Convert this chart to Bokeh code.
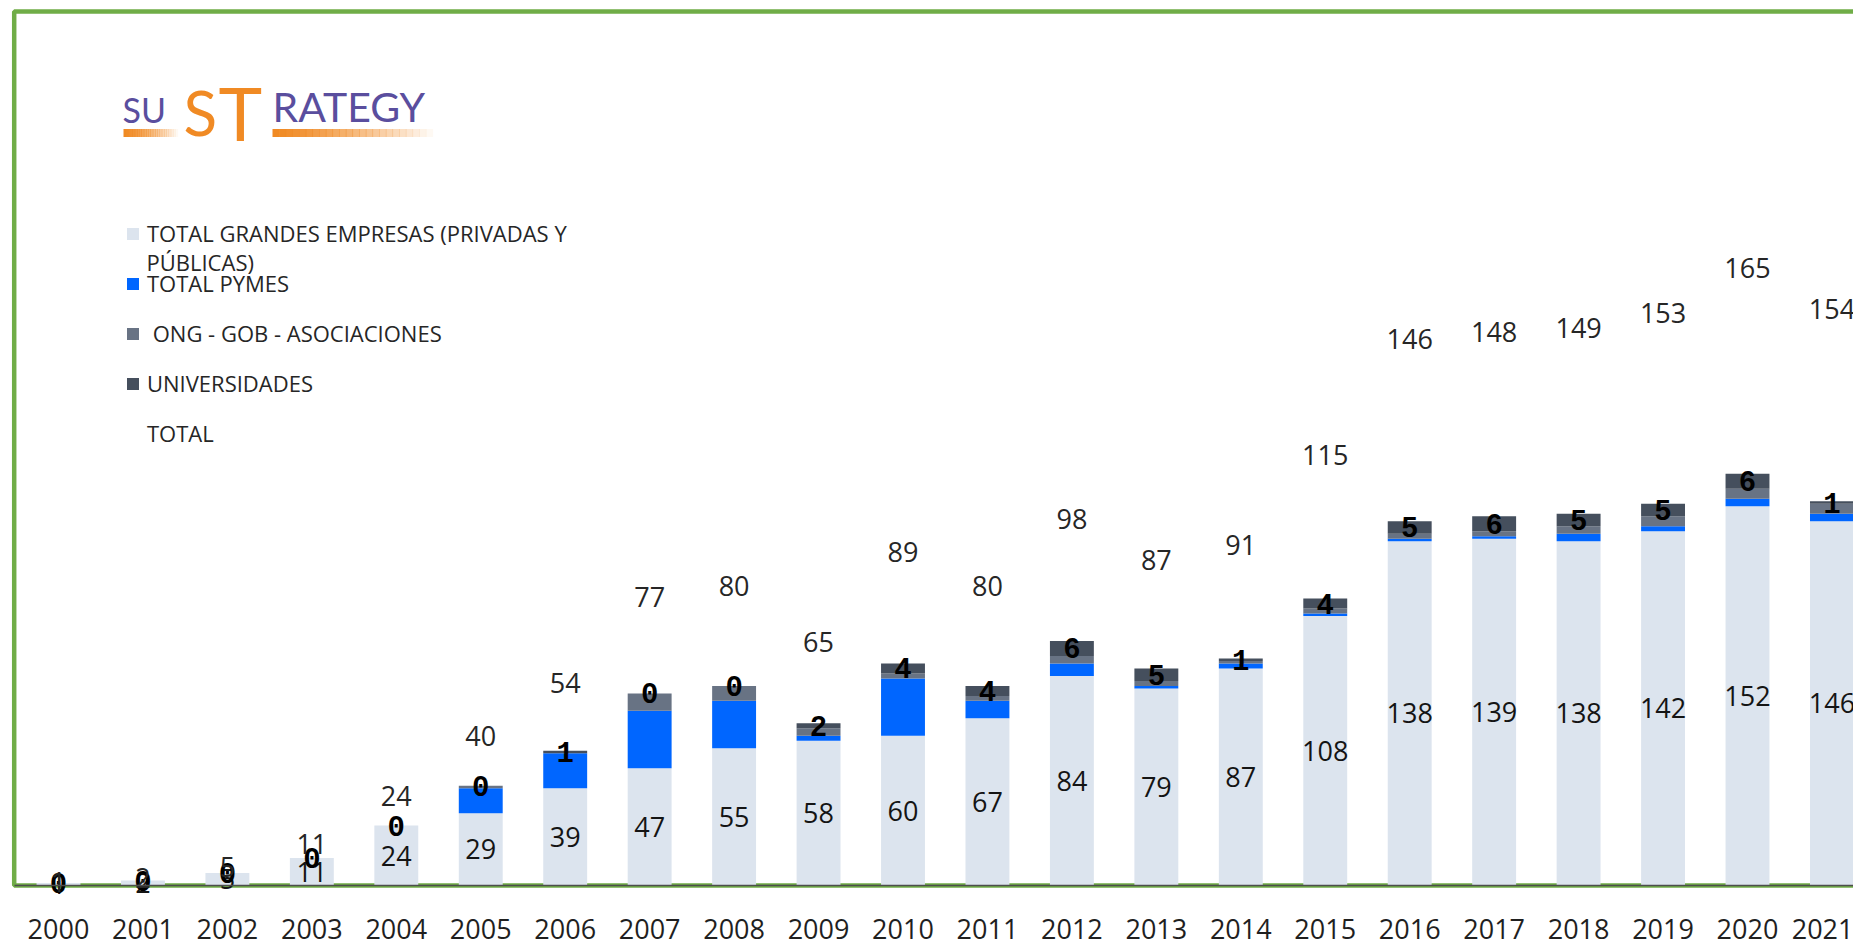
from bokeh.plotting import figure
from bokeh.models import (ColumnDataSource, Range1d, FixedTicker, Legend, LegendItem,
                          Label, BoxAnnotation)
from bokeh.core.properties import value
from bokeh.embed import file_html
from bokeh.resources import INLINE

# ---------------- data ----------------
years = ["2000", "2001", "2002", "2003", "2004", "2005", "2006", "2007", "2008", "2009", "2010",
         "2011", "2012", "2013", "2014", "2015", "2016", "2017", "2018", "2019", "2020", "2021"]
grandes = [1, 2, 5, 11, 24, 29, 39, 47, 55, 58, 60, 67, 84, 79, 87, 108, 138, 139, 138, 142, 152, 146]
pymes = [0, 0, 0, 0, 0, 10, 14, 23, 19, 2, 23, 7, 5, 1, 2, 1, 1, 1, 3, 2, 3, 3]
ong = [0, 0, 0, 0, 0, 1, 0, 7, 6, 3, 2, 2, 3, 2, 1, 2, 2, 2, 3, 4, 4, 4]
univ = [0, 0, 0, 0, 0, 0, 1, 0, 0, 2, 4, 4, 6, 5, 1, 4, 5, 6, 5, 5, 6, 1]
total = [1, 2, 5, 11, 24, 40, 54, 77, 80, 65, 89, 80, 98, 87, 91, 115, 146, 148, 149, 153, 165, 154]

series_names = ["TOTAL GRANDES EMPRESAS (PRIVADAS Y", "TOTAL PYMES", " ONG - GOB - ASOCIACIONES",
                "UNIVERSIDADES", "TOTAL"]
colors = ["#DCE4EE", "#0066FF", "#687384", "#454F5D"]

xs = list(range(len(years)))
src = ColumnDataSource(dict(
    x=xs, grandes=grandes, pymes=pymes, ong=ong, univ=univ, total=total,
    total_top=[2 * t for t in total],
    y_g=[g / 2 for g in grandes],
    y_u=[g + p + o + u / 2 for g, p, o, u in zip(grandes, pymes, ong, univ)],
    y_t=[t * 1.5 for t in total],
    l_g=[str(v) for v in grandes],
    l_u=[str(v) for v in univ],
    l_t=[str(v) for v in total],
))

# ---------------- layout constants (pixels) ----------------
W, H = 1853, 942
CAT_PX = 84.45          # pixels per category
FIRST_CENTER = 58.0     # x of first category centre in canvas px
BASE_FROM_BOTTOM = 57.0 # baseline distance from canvas bottom
UNIT_PX = 2.495         # pixels per unit on the value axis

x0 = -FIRST_CENTER / CAT_PX
x1 = x0 + W / CAT_PX
y0 = -BASE_FROM_BOTTOM / UNIT_PX
y1 = y0 + H / UNIT_PX
x_frame_left = x0 + 13.7 / CAT_PX
y_frame_top = y1 - 11.0 / UNIT_PX

p = figure(width=W, height=H, x_range=Range1d(x0, x1), y_range=Range1d(y0, y1),
           output_backend="svg", toolbar_location=None,
           min_border_left=0, min_border_right=0, min_border_top=0, min_border_bottom=0)
p.outline_line_color = None
p.background_fill_color = "white"
p.border_fill_color = "white"
p.grid.visible = False
p.yaxis.visible = False

xa = p.xaxis[0]
xa.fixed_location = 0
xa.bounds = (x_frame_left, x1 + 1)
xa.ticker = FixedTicker(ticks=xs)
xa.major_label_overrides = {i: y for i, y in enumerate(years)}
xa.major_tick_line_color = None
xa.minor_tick_line_color = None
xa.major_tick_out = 0
xa.major_tick_in = 0
xa.major_label_standoff = 33
xa.major_label_text_font = "Open Sans"
xa.major_label_text_font_size = "27px"
xa.major_label_text_color = "#1F1F1F"
xa.axis_line_color = "#4D4D4D"
xa.axis_line_width = 1.5

green = "#70AD47"
p.add_layout(BoxAnnotation(left=x_frame_left, right=x1 + 2, bottom=0, top=y_frame_top,
                           fill_alpha=0, line_color=green, line_alpha=1.0, line_width=4.5,
                           level="underlay"))

# bars
stack = p.vbar_stack(["grandes", "pymes", "ong", "univ"], x="x", width=0.52, color=colors,
                     line_color=None, source=src)
r_total = p.vbar(x="x", bottom="total", top="total_top", width=0.52, fill_alpha=0,
                 line_alpha=0, source=src)

# data labels
p.text(x="x", y="y_g", text="l_g", source=src, text_align="center", text_baseline="middle",
       text_font=value("Open Sans"), text_font_size="27px", text_color="#141414")
p.text(x="x", y="y_u", text="l_u", source=src, text_align="center", text_baseline="middle",
       text_font=value("Liberation Mono"), text_font_size="29px", text_font_style="bold",
       text_color="#000000")
p.text(x="x", y="y_t", text="l_t", source=src, text_align="center", text_baseline="middle",
       text_font=value("Open Sans"), text_font_size="27px", text_color="#262626")

# legend
items = [LegendItem(label=series_names[i], renderers=[stack[i]]) for i in range(4)]
items.append(LegendItem(label=series_names[4], renderers=[r_total]))
leg = Legend(items=items, location=(125, 494), padding=0, margin=0, spacing=20,
             glyph_width=15, glyph_height=15, label_height=27, label_standoff=7,
             label_text_font="Open Sans", label_text_font_size="22px",
             label_text_color="#262626", border_line_color=None,
             background_fill_alpha=0)
p.add_layout(leg)
p.add_layout(Label(x=146, y=681, x_units="screen", y_units="screen", text="PÚBLICAS)",
                   text_font="Open Sans", text_font_size="22px", text_color="#262626",
                   text_baseline="middle"))

# logo
purple = "#5A4E9E"
orange = "#F08A24"
for bx0, bx1 in [(123, 177), (272, 432)]:
    n = 24
    w = (bx1 - bx0) / n
    for i in range(n):
        a = max(0.0, 1.0 - (i / n) ** 1.3)
        p.add_layout(BoxAnnotation(left=bx0 + i * w, right=bx0 + (i + 1) * w + 0.6, top=813.5, bottom=805.5,
                                   left_units="screen", right_units="screen",
                                   top_units="screen", bottom_units="screen",
                                   fill_color=orange, fill_alpha=a, line_alpha=0, level="overlay"))
p.add_layout(Label(x=122, y=813, x_units="screen", y_units="screen", text="SU",
                   text_font="Lato", text_font_size="34px", text_color=purple))
p.add_layout(Label(x=183, y=794, x_units="screen", y_units="screen", text="S",
                   text_font="Lato", text_font_size="62px", text_color=orange))
p.add_layout(Label(x=218, y=786, x_units="screen", y_units="screen", text="T",
                   text_font="Lato", text_font_size="74px", text_color=orange))
p.add_layout(Label(x=272, y=812, x_units="screen", y_units="screen", text="RATEGY",
                   text_font="Lato", text_font_size="41px", text_color=purple))

open("out.html", "w").write(file_html(p, INLINE))
